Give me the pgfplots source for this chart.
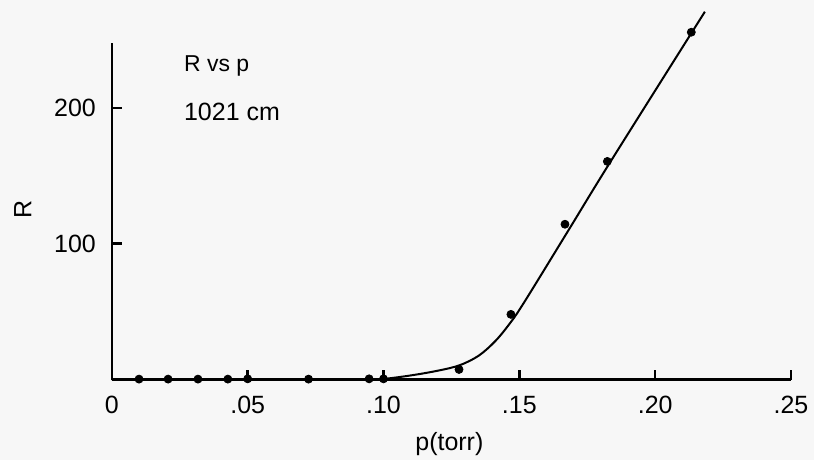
\documentclass[border=0pt]{standalone}
\usepackage{fontspec}
\setmainfont{Liberation Sans}
\usepackage{pgfplots}
\pgfplotsset{compat=1.18}
\definecolor{paper}{RGB}{247,247,247}

\begin{document}
\begin{tikzpicture}
% scan background, 815x461 px at 0.5pt per px
\fill[paper] (-56pt,-40.5pt) rectangle ++(407.5pt,230.5pt);
\begin{axis}[
    scale only axis,
    width=340pt,
    height=168.5pt,
    xmin=0, xmax=0.25,
    ymin=0, ymax=248,
    clip=false,
    axis x line=bottom,
    axis y line=left,
    axis line style={-, line width=1.3pt},
    tick align=inside,
    major tick length=5pt,
    tick style={line width=1.3pt, black},
    xtick={0,0.05,0.10,0.15,0.20,0.25},
    xticklabels={0,.05,.10,.15,.20,.25},
    ytick={100,200},
    yticklabels={100,200},
    font=\fontsize{12.5}{15}\selectfont,
    xticklabel style={yshift=-4.8pt},
    yticklabel style={xshift=-4.5pt},
    xlabel={p(torr)},
    ylabel={R},
    xlabel style={at={(axis description cs:0.497,-0.193)}, anchor=center},
    ylabel style={at={(axis description cs:-0.131,0.504)}, anchor=center, rotate=0},
]

% fitted curve
\addplot[black, line width=1pt, smooth, tension=0.55] coordinates {
    (0,0) (0.05,0) (0.095,0) (0.100,0.4) (0.110,3) (0.120,6.5)
    (0.128,10.5) (0.135,17.5) (0.141,28) (0.146,40) (0.1515,56)
    (0.1684,111) (0.1834,160) (0.2183,271)
};

% measured points
\addplot[only marks, mark=*, mark size=2pt, black] coordinates {
    (0.010,0.3) (0.0207,0.3) (0.0317,0.3) (0.0427,0.3) (0.050,0.5)
    (0.0724,0.3) (0.0947,0.5) (0.100,0.5) (0.1278,7.4) (0.1469,48)
    (0.1668,114.4) (0.1824,160.7) (0.2133,255.9)
};

\node[anchor=west, font=\fontsize{11.5}{14}\selectfont] at (axis cs:0.024,231) {R vs p};
\node[anchor=west, font=\fontsize{12.5}{15}\selectfont] at (axis cs:0.024,197) {1021 cm};

\end{axis}
\end{tikzpicture}
\end{document}
